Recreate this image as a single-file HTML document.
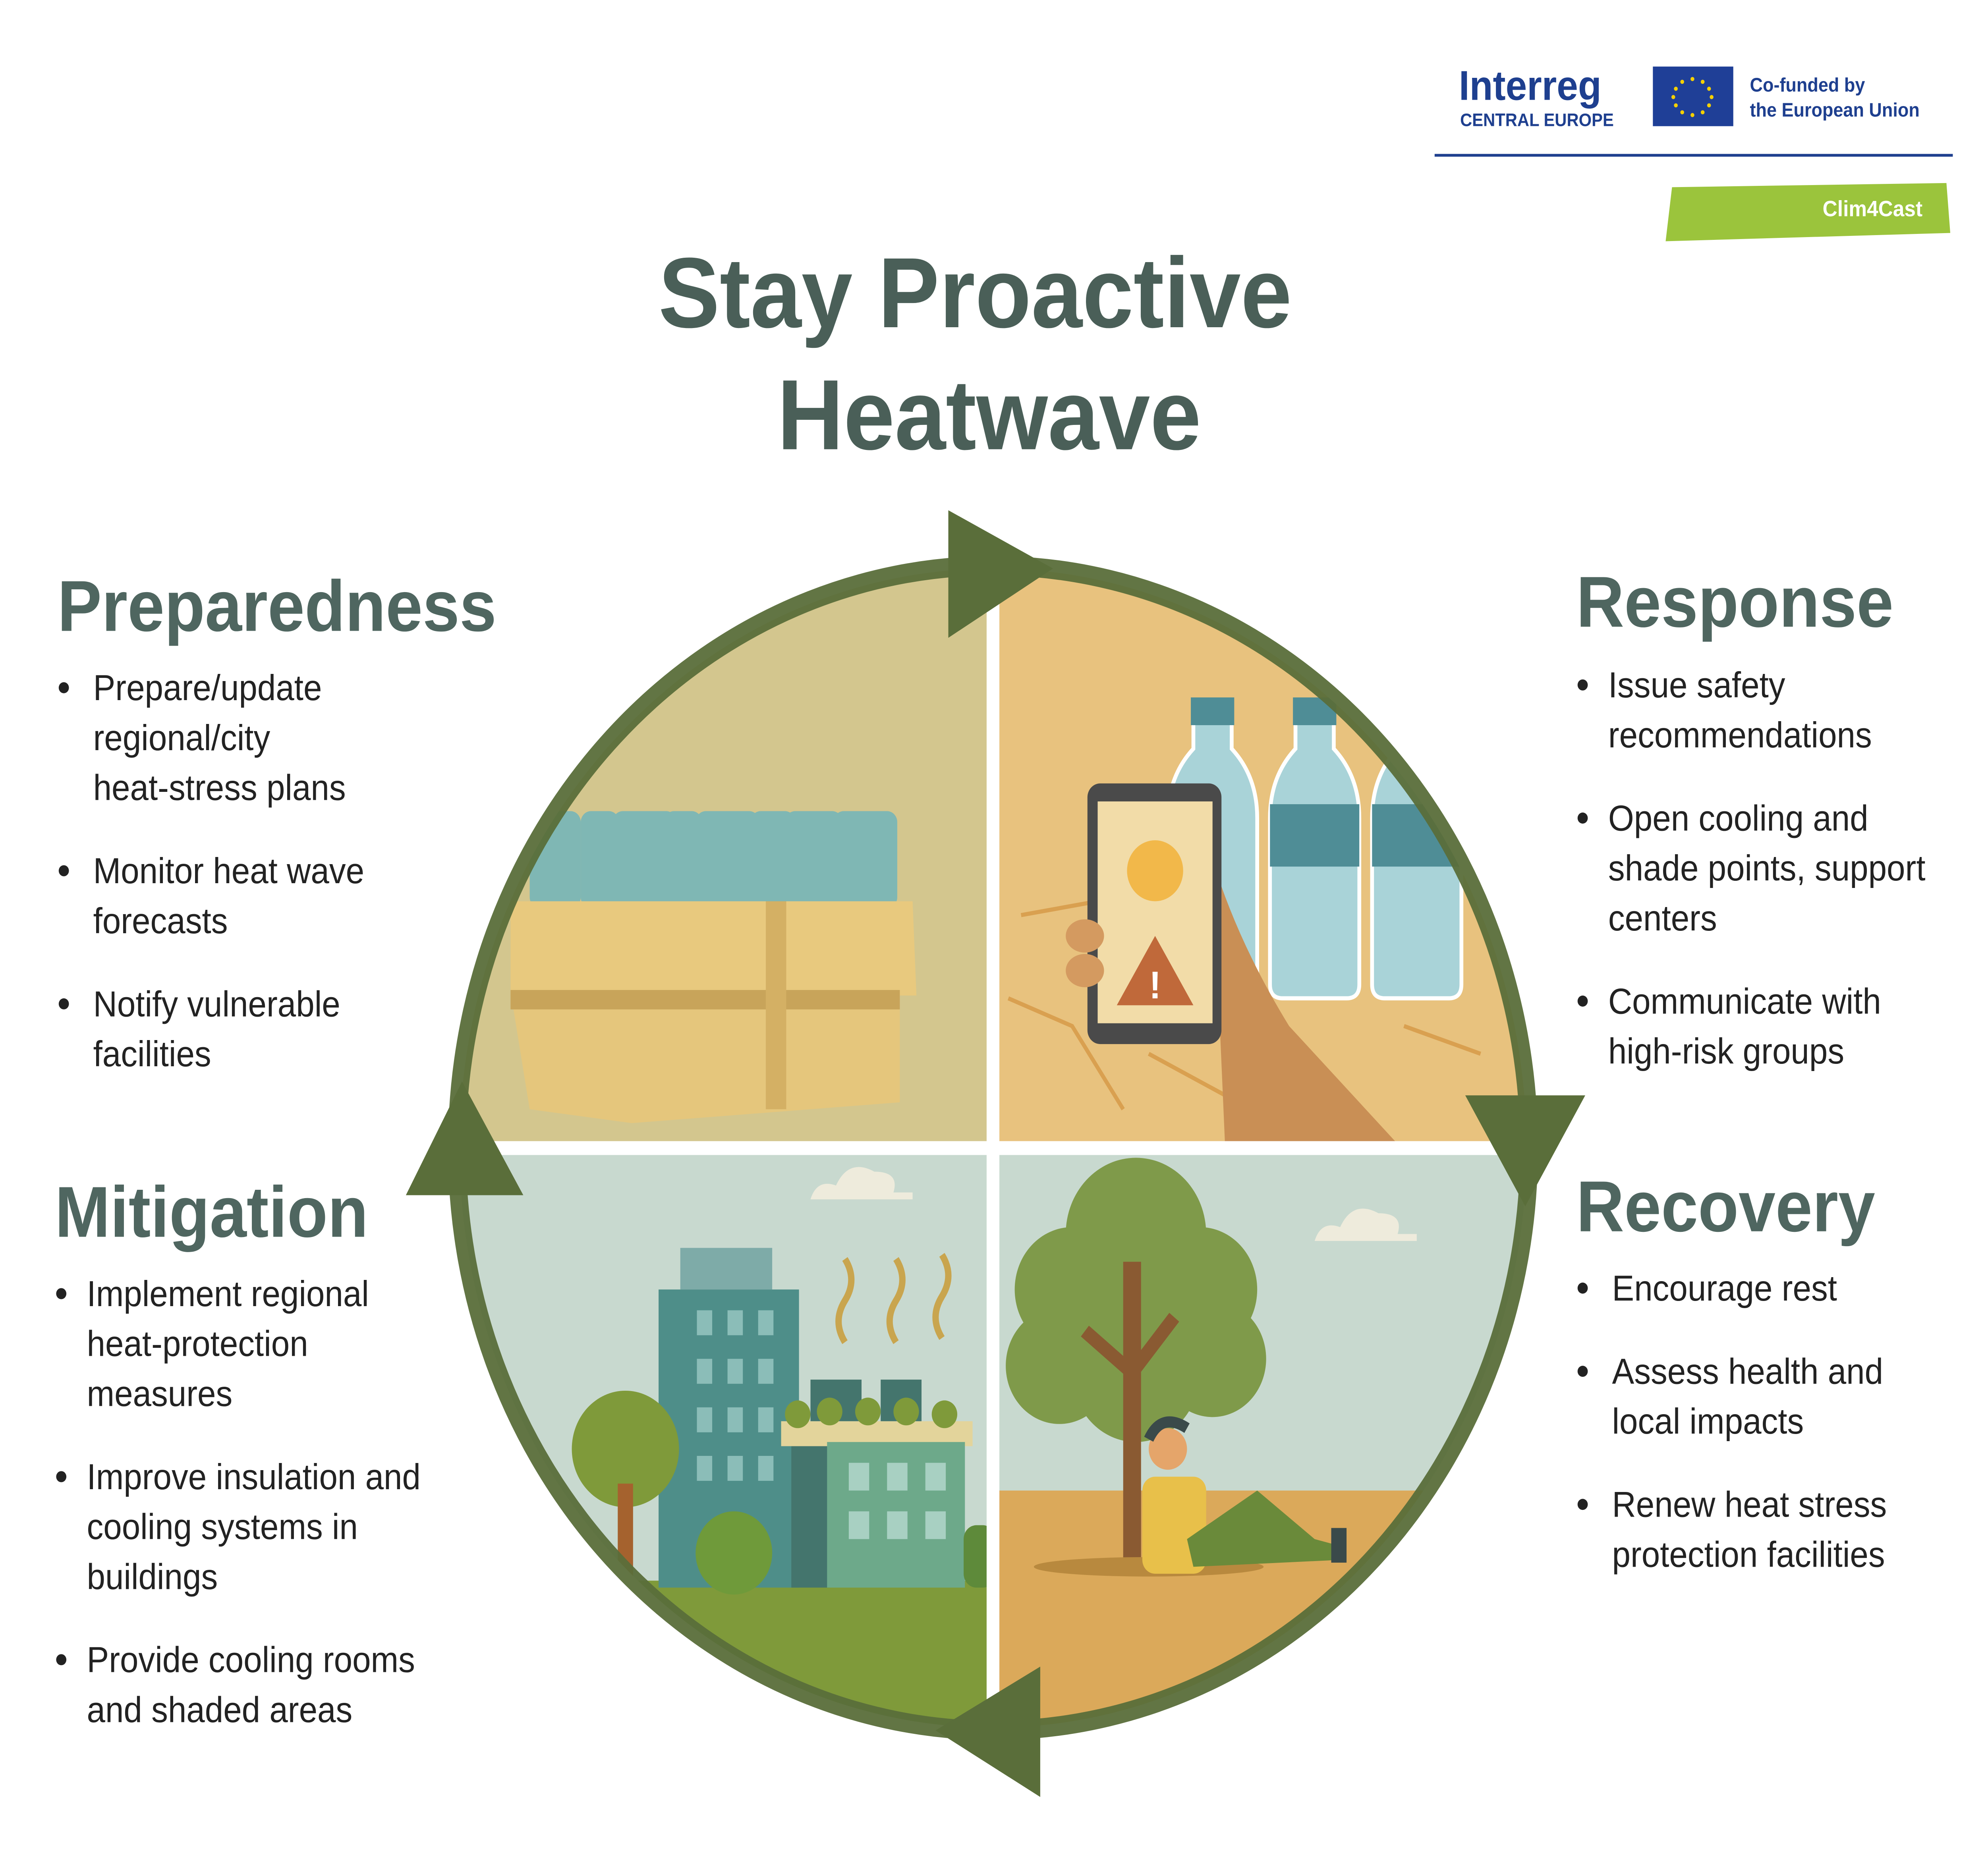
<!DOCTYPE html>
<html><head><meta charset="utf-8"><style>
html,body{margin:0;padding:0;background:#fff;width:100%;height:100%;overflow:hidden;}
svg{display:block;position:fixed;left:0;top:0;width:100vw;height:100vh;}
text{font-family:"Liberation Sans",sans-serif;}
</style></head><body>
<svg viewBox="0 0 1556 1353" preserveAspectRatio="none" xmlns="http://www.w3.org/2000/svg">
<defs>
<clipPath id="c"><circle cx="778" cy="828" r="418"/></clipPath>
</defs>
<rect width="1556" height="1353" fill="#fff"/>

<text x="1143" y="72" font-size="30" font-weight="bold" fill="#1e3f8f">Interreg</text>
<text x="1144" y="91" font-size="13" font-weight="bold" fill="#1e3f8f">CENTRAL EUROPE</text>
<rect x="1295" y="48" width="63" height="43" fill="#1f3f97"/>
<g fill="#f5d000">
<circle cx="1326" cy="57" r="1.5"/><circle cx="1334" cy="59" r="1.5"/><circle cx="1339" cy="64" r="1.5"/><circle cx="1341" cy="70" r="1.5"/><circle cx="1339" cy="76" r="1.5"/><circle cx="1334" cy="81" r="1.5"/><circle cx="1326" cy="83" r="1.5"/><circle cx="1318" cy="81" r="1.5"/><circle cx="1313" cy="76" r="1.5"/><circle cx="1311" cy="70" r="1.5"/><circle cx="1313" cy="64" r="1.5"/><circle cx="1318" cy="59" r="1.5"/>
</g>
<text x="1371" y="66" font-size="14" font-weight="bold" fill="#1e3f8f">Co-funded by</text>
<text x="1371" y="84" font-size="14" font-weight="bold" fill="#1e3f8f">the European Union</text>
<rect x="1124" y="111" width="406" height="2" fill="#1e3f8f"/>
<path d="M1310 135 L1525 132 L1528 168 L1305 174 Z" fill="#9bc43c"/>
<text x="1428" y="156" font-size="16" font-weight="bold" fill="#fff">Clim4Cast</text>

<text x="764" y="236" font-size="72" font-weight="bold" fill="#4a5f58" text-anchor="middle">Stay Proactive</text>
<text x="775" y="324" font-size="72" font-weight="bold" fill="#4a5f58" text-anchor="middle">Heatwave</text>

<g clip-path="url(#c)">
<rect x="350" y="400" width="428" height="428" fill="#d3c68e"/>
<rect x="778" y="400" width="430" height="428" fill="#e8c27e"/>
<rect x="350" y="828" width="428" height="430" fill="#c8d9cf"/>
<rect x="350" y="1140" width="428" height="120" fill="#7f9a3a"/>
<rect x="778" y="828" width="430" height="430" fill="#c8d9cf"/>
<rect x="778" y="1075" width="430" height="185" fill="#dba95a"/>
<g fill="#7fb7b4">
<rect x="415" y="585" width="40" height="70" rx="8"/><rect x="455" y="585" width="30" height="70" rx="8"/><rect x="480" y="585" width="50" height="70" rx="8"/><rect x="520" y="585" width="30" height="70" rx="8"/><rect x="545" y="585" width="50" height="70" rx="8"/><rect x="588" y="585" width="35" height="70" rx="8"/><rect x="615" y="585" width="45" height="70" rx="8"/><rect x="653" y="585" width="50" height="70" rx="8"/>
</g>
<polygon points="400,650 715,650 718,718 400,718" fill="#e8c97e"/>
<polygon points="400,715 705,715 705,795 495,810 415,800" fill="#e5c67c"/>
<rect x="400" y="714" width="305" height="14" fill="#c8a45a"/>
<rect x="600" y="650" width="16" height="150" fill="#d4b064"/>
<g fill="none" stroke="#d9a050" stroke-width="3"><path d="M790 720 L840 740 L880 800 M900 760 L960 790 L1000 820 M1100 740 L1160 760 M800 660 L860 650"/></g>
<g fill="#a9d3d8" stroke="#fff" stroke-width="3">
<path d="M935 520 h30 v20 q20 20 20 50 v120 q0 10 -10 10 h-50 q-10 0 -10 -10 v-120 q0 -30 20 -50z"/>
<path d="M1015 520 h30 v20 q20 20 20 50 v120 q0 10 -10 10 h-50 q-10 0 -10 -10 v-120 q0 -30 20 -50z"/>
<path d="M1095 520 h30 v20 q20 20 20 50 v120 q0 10 -10 10 h-50 q-10 0 -10 -10 v-120 q0 -30 20 -50z"/>
</g>
<g fill="#4f8d96"><rect x="933" y="503" width="34" height="20"/><rect x="1013" y="503" width="34" height="20"/><rect x="1093" y="505" width="34" height="20"/>
<rect x="995" y="580" width="70" height="45"/><rect x="1075" y="580" width="70" height="45"/></g>
<path d="M950 620 Q970 680 1010 740 L1100 830 L960 830 Z" fill="#c98f55"/>
<rect x="852" y="565" width="105" height="188" rx="10" fill="#4a4a4a"/>
<rect x="860" y="578" width="90" height="160" fill="#f2dca8"/>
<circle cx="905" cy="628" r="22" fill="#f2b84a"/>
<polygon points="905,675 875,725 935,725" fill="#c0693a"/>
<text x="905" y="720" font-size="28" font-weight="bold" fill="#fff" text-anchor="middle">!</text>
<g fill="#d49a60"><ellipse cx="850" cy="675" rx="15" ry="12"/><ellipse cx="850" cy="700" rx="15" ry="12"/></g>
<rect x="516" y="930" width="110" height="215" fill="#4e8e89"/>
<rect x="533" y="900" width="72" height="30" fill="#7eaba8"/>
<g fill="#8bbdb8"><rect x="546" y="945" width="12" height="18"/><rect x="570" y="945" width="12" height="18"/><rect x="594" y="945" width="12" height="18"/>
<rect x="546" y="980" width="12" height="18"/><rect x="570" y="980" width="12" height="18"/><rect x="594" y="980" width="12" height="18"/>
<rect x="546" y="1015" width="12" height="18"/><rect x="570" y="1015" width="12" height="18"/><rect x="594" y="1015" width="12" height="18"/>
<rect x="546" y="1050" width="12" height="18"/><rect x="570" y="1050" width="12" height="18"/><rect x="594" y="1050" width="12" height="18"/></g>
<rect x="620" y="1040" width="30" height="105" fill="#44756d"/>
<rect x="612" y="1025" width="150" height="18" fill="#e3d49b"/>
<rect x="648" y="1040" width="108" height="105" fill="#6da98a"/>
<rect x="635" y="995" width="40" height="30" fill="#44756d"/><rect x="690" y="995" width="32" height="30" fill="#44756d"/>
<g fill="#a8d0c2"><rect x="665" y="1055" width="16" height="20"/><rect x="695" y="1055" width="16" height="20"/><rect x="725" y="1055" width="16" height="20"/><rect x="665" y="1090" width="16" height="20"/><rect x="695" y="1090" width="16" height="20"/><rect x="725" y="1090" width="16" height="20"/></g>
<g fill="#7f9a3a"><circle cx="625" cy="1020" r="10"/><circle cx="650" cy="1018" r="10"/><circle cx="680" cy="1018" r="10"/><circle cx="710" cy="1018" r="10"/><circle cx="740" cy="1020" r="10"/></g>
<circle cx="490" cy="1045" r="42" fill="#7f9a3a"/><rect x="484" y="1070" width="12" height="75" fill="#a5622e"/>
<circle cx="575" cy="1120" r="30" fill="#6f9a3a"/>
<rect x="755" y="1100" width="25" height="45" rx="10" fill="#5e8a3a"/>
<g fill="none" stroke="#c9a54e" stroke-width="5"><path d="M662 908 q10 15 0 30 q-10 15 0 30"/><path d="M702 908 q10 15 0 30 q-10 15 0 30"/><path d="M738 905 q10 15 0 30 q-10 15 0 30"/></g>
<path d="M635 865 q5 -15 20 -10 q10 -20 30 -10 q20 0 15 15 h15 v5 h-80z" fill="#eeebdc"/>
<path d="M1030 895 q5 -15 20 -10 q10 -20 30 -10 q20 0 15 15 h15 v5 h-80z" fill="#eeebdc"/>
<g fill="#7f9a4a"><circle cx="890" cy="890" r="55"/><circle cx="840" cy="930" r="45"/><circle cx="940" cy="930" r="45"/><circle cx="830" cy="985" r="42"/><circle cx="950" cy="980" r="42"/><circle cx="890" cy="990" r="50"/></g>
<rect x="880" y="910" width="14" height="225" fill="#8a5a32"/>
<path d="M887 990 L850 960 M887 990 L920 950" stroke="#8a5a32" stroke-width="10"/>
<ellipse cx="900" cy="1130" rx="90" ry="7" fill="#b8893e"/>
<rect x="895" y="1065" width="50" height="70" rx="10" fill="#e8c04a"/>
<circle cx="915" cy="1045" r="15" fill="#e5a56a"/>
<path d="M900 1038 q10 -20 30 -8" stroke="#3a4a4a" stroke-width="8" fill="none"/>
<path d="M930 1110 L985 1075 L1030 1110 L1050 1115 L1050 1125 L935 1130 Z" fill="#6a8a3a"/>
<rect x="1043" y="1102" width="12" height="25" fill="#3a4a4a"/>
<rect x="773" y="400" width="10" height="860" fill="#fff"/>
<rect x="350" y="823" width="860" height="10" fill="#fff"/>
</g>

<circle cx="778" cy="828" r="420" fill="none" stroke="#5a6e3a" stroke-width="14" opacity="0.95"/>
<g fill="#5a6e3a">
<polygon points="743,368 825,410 743,460"/>
<polygon points="1148,790 1242,790 1195,870"/>
<polygon points="815,1202 815,1296 733,1248"/>
<polygon points="318,862 410,862 362,780"/>
</g>

<g fill="#4f6660" font-size="52" font-weight="bold">
<text x="45" y="455">Preparedness</text>
<text x="1235" y="452">Response</text>
<text x="43" y="892">Mitigation</text>
<text x="1235" y="888">Recovery</text>
</g>
<g fill="#222" font-size="26">
<circle cx="50" cy="496" r="4"/><circle cx="50" cy="628" r="4"/><circle cx="50" cy="724" r="4"/>
<text x="73" y="505">Prepare/update</text><text x="73" y="541">regional/city</text><text x="73" y="577">heat-stress plans</text>
<text x="73" y="637">Monitor heat wave</text><text x="73" y="673">forecasts</text>
<text x="73" y="733">Notify vulnerable</text><text x="73" y="769">facilities</text>
<circle cx="1240" cy="494" r="4"/><circle cx="1240" cy="590" r="4"/><circle cx="1240" cy="722" r="4"/>
<text x="1260" y="503">Issue safety</text><text x="1260" y="539">recommendations</text>
<text x="1260" y="599">Open cooling and</text><text x="1260" y="635">shade points, support</text><text x="1260" y="671">centers</text>
<text x="1260" y="731">Communicate with</text><text x="1260" y="767">high-risk groups</text>
<circle cx="48" cy="933" r="4"/><circle cx="48" cy="1065" r="4"/><circle cx="48" cy="1197" r="4"/>
<text x="68" y="942">Implement regional</text><text x="68" y="978">heat-protection</text><text x="68" y="1014">measures</text>
<text x="68" y="1074">Improve insulation and</text><text x="68" y="1110">cooling systems in</text><text x="68" y="1146">buildings</text>
<text x="68" y="1206">Provide cooling rooms</text><text x="68" y="1242">and shaded areas</text>
<circle cx="1240" cy="929" r="4"/><circle cx="1240" cy="989" r="4"/><circle cx="1240" cy="1085" r="4"/>
<text x="1263" y="938">Encourage rest</text>
<text x="1263" y="998">Assess health and</text><text x="1263" y="1034">local impacts</text>
<text x="1263" y="1094">Renew heat stress</text><text x="1263" y="1130">protection facilities</text>
</g>
</svg>
</body></html>
